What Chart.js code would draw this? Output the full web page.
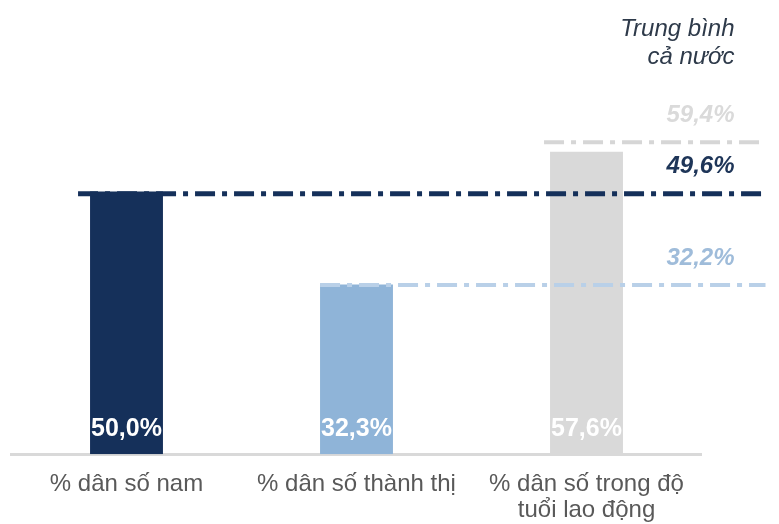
<!DOCTYPE html>
<html lang="vi">
<head>
<meta charset="utf-8">
<script src="https://cdn.jsdelivr.net/npm/chart.js@4/dist/chart.umd.min.js"></script>
<style>
  html, body { margin: 0; padding: 0; background: #ffffff; }
  #wrap { width: 779px; height: 524px; }
</style>
</head>
<body>
<div id="wrap"><canvas id="c" width="779" height="524"></canvas></div>
<script>
// Province indicators versus the national average
const categories = [
  ['% dân số nam'],
  ['% dân số thành thị'],
  ['% dân số trong độ', 'tuổi lao động']
];
const provinceValues = [50.0, 32.3, 57.6];
const nationalAverages = [49.6, 32.2, 59.4];
const headerLines = ['Trung bình', 'cả nước'];

const barColors = ['#15305a', '#8fb4d8', '#d9d9d9'];
const avgLineColors = ['#15305a', '#b9d0e8', '#d6d6d6'];
const avgLabelColors = ['#1e3558', '#9fbcda', '#dadada'];
const FONT = '"Liberation Sans", Arial, Helvetica, sans-serif';

const fmt = v => v.toFixed(1).replace('.', ',') + '%';

// Draws value labels inside bars, dash-dot average lines and their labels on the right
const overlayPlugin = {
  id: 'overlay',
  afterDatasetsDraw(chart) {
    const { ctx, chartArea, scales } = chart;
    const bars = chart.getDatasetMeta(0).data;
    const lineEnd = chartArea.right + 64;
    const labelRight = chartArea.right + 33;

    ctx.save();
    // average lines
    nationalAverages.forEach((v, i) => {
      const bar = bars[i];
      const left = bar.x - bar.width / 2;
      const startX = i === 0 ? left - 12 : (i === 2 ? left - 6 : left);
      const y = scales.y.getPixelForValue(v);
      ctx.beginPath();
      ctx.setLineDash([20, 7, 5, 7]);
      ctx.lineWidth = i === 0 ? 5 : 4;
      ctx.strokeStyle = avgLineColors[i];
      ctx.moveTo(startX, y);
      ctx.lineTo(lineEnd, y);
      ctx.stroke();

      ctx.setLineDash([]);
      ctx.font = 'italic bold 24px ' + FONT;
      ctx.fillStyle = avgLabelColors[i];
      ctx.textAlign = 'right';
      ctx.textBaseline = 'middle';
      ctx.fillText(fmt(v), labelRight, y - 27);
    });

    // value labels at the foot of each bar
    ctx.font = 'bold 25px ' + FONT;
    ctx.fillStyle = '#ffffff';
    ctx.textAlign = 'center';
    ctx.textBaseline = 'middle';
    provinceValues.forEach((v, i) => {
      const bar = bars[i];
      ctx.fillText(fmt(v), bar.x, bar.base - 25);
    });

    // header above the averages
    ctx.font = 'italic 24px ' + FONT;
    ctx.fillStyle = '#2e3a4a';
    ctx.textAlign = 'right';
    headerLines.forEach((t, k) => {
      ctx.fillText(t, labelRight, 29 + k * 28);
    });
    ctx.restore();
  }
};

new Chart(document.getElementById('c'), {
  type: 'bar',
  data: {
    labels: categories,
    datasets: [{
      data: provinceValues,
      backgroundColor: barColors,
      borderWidth: 0,
      categoryPercentage: 1,
      barPercentage: 0.317
    }]
  },
  options: {
    responsive: false,
    animation: false,
    devicePixelRatio: 1,
    layout: { padding: { left: 11.5, right: 77.5, top: 34, bottom: -17 } },
    plugins: { legend: { display: false }, tooltip: { enabled: false } },
    scales: {
      x: {
        grid: { display: false, drawTicks: false },
        border: { display: true, color: '#d9d9d9', width: 3 },
        ticks: {
          color: '#595959',
          font: { family: FONT, size: 24, lineHeight: 1.1 },
          padding: 17,
          maxRotation: 0,
          autoSkip: false
        }
      },
      y: {
        display: false,
        min: 0,
        max: 80
      }
    }
  },
  plugins: [overlayPlugin]
});
</script>
</body>
</html>
